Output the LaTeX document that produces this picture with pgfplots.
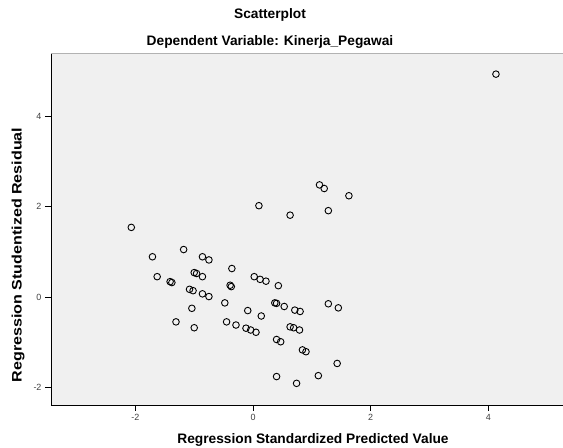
\documentclass[border=0pt]{standalone}
\usepackage{fontspec}
\setmainfont{Liberation Sans}
\usepackage{graphicx}
\usepackage{pgfplots}
\pgfplotsset{compat=1.18}
\definecolor{bgc}{HTML}{F0F0F0}
\begin{document}
\begin{tikzpicture}[x=1bp,y=1bp]
\useasboundingbox (-51,-43) rectangle (512,405);
\begin{axis}[
  at={(0,0)}, anchor=south west,
  scale only axis, width=512bp, height=352bp,
  xmin=-3.435, xmax=5.27, ymin=-2.389, ymax=5.398,
  axis x line*=bottom, axis y line*=left,
  axis line style={-, line width=1pt, black},
  axis background/.style={fill=bgc},
  xtick={-2,0,2,4}, ytick={-2,0,2,4},
  tick align=outside, major tick length=6bp,
  tick style={line width=0.8pt, black},
  /pgf/number format/assume math mode=true,
  tick label style={font=\fontsize{9}{10}\selectfont, text=black!75},
  clip=false,
]
\draw[gray!60, line width=0.6pt] (rel axis cs:0,1) -- (rel axis cs:1,1);
\addplot[only marks, mark=o, mark size=3.3bp, mark options={line width=0.9pt, black}] coordinates {
(4.13,4.93) (1.13,2.48) (1.21,2.40) (1.63,2.24) (0.10,2.02) (0.63,1.81) (1.28,1.91) (-2.07,1.54)
(-1.18,1.05) (-1.71,0.89) (-0.86,0.89) (-0.75,0.82) (-0.36,0.63) (-1.63,0.45) (-1.41,0.34) (-1.38,0.32)
(-1.00,0.54) (-0.96,0.52) (-0.86,0.45) (-0.39,0.26) (-0.37,0.23) (0.02,0.45) (0.12,0.39) (0.22,0.35)
(0.43,0.25) (-1.08,0.17) (-1.02,0.14) (-0.86,0.07) (-0.75,0.01) (-0.48,-0.13) (-1.04,-0.25) (-1.31,-0.55)
(-1.00,-0.68) (-0.09,-0.30) (0.14,-0.42) (0.37,-0.13) (0.40,-0.14) (0.53,-0.21) (0.71,-0.29) (0.80,-0.32)
(-0.45,-0.55) (-0.29,-0.62) (-0.12,-0.69) (-0.04,-0.73) (0.05,-0.78) (0.63,-0.66) (0.69,-0.68) (0.79,-0.73)
(0.40,-0.94) (0.47,-0.99) (0.84,-1.17) (0.90,-1.21) (0.40,-1.76) (0.74,-1.91) (1.11,-1.74)
(1.28,-0.15) (1.45,-0.24) (1.43,-1.47)
};
\end{axis}
\node[font=\fontsize{13.8}{15}\selectfont\bfseries] at (219,390) {Scatterplot};
\node[font=\fontsize{13.8}{15}\selectfont\bfseries] at (219,363) {Dependent Variable: Kinerja\_Pegawai};
\node[font=\fontsize{13.8}{15}\selectfont\bfseries] at (262,-35) {Regression Standardized Predicted Value};
\node[font=\fontsize{13.8}{15}\selectfont\bfseries, rotate=90] at (-33,150) {\scalebox{1.17}[1]{Regression Studentized Residual}};
\end{tikzpicture}
\end{document}
